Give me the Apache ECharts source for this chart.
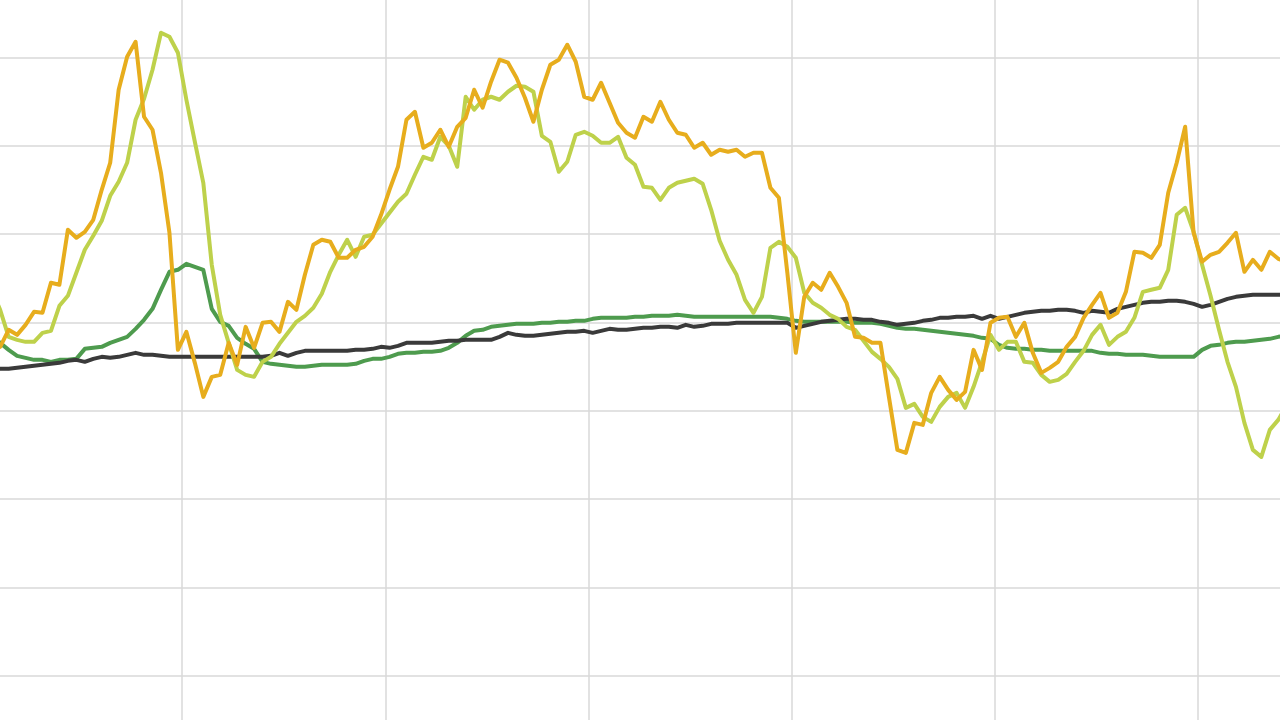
<!DOCTYPE html>
<html>
<head>
<meta charset="utf-8">
<title>chart</title>
<script src="https://cdn.jsdelivr.net/npm/echarts@6/dist/echarts.min.js"></script>
<style>
  html, body { margin: 0; padding: 0; background: #fff; overflow: hidden; width: 1280px; height: 720px; }
  /* the plot area runs past the picture on every side */
  #chart { position: absolute; left: -21px; top: -31px; width: 1422px; height: 795px; }
</style>
</head>
<body>
<div id="chart"></div>
<script>
  // sample index along x, 24 samples between vertical grid lines
  var days = [];
  for (var d = 0; d < 168; d++) days.push(String(d));

  var orangeVals = [
    410, 414, 417, 434, 429, 439, 452, 451, 481, 479,
    534, 526, 532, 544, 574, 601, 674, 707, 722, 647,
    634, 591, 531, 414, 432, 401, 367, 387, 389, 421,
    399, 437, 416, 441, 442, 432, 462, 454, 489, 519,
    524, 522, 506, 506, 514, 517, 527, 549, 574, 597,
    644, 652, 616, 621, 634, 617, 637, 646, 674, 656,
    682, 704, 701, 686, 666, 642, 674, 699, 704, 719,
    702, 667, 664, 681, 661, 641, 631, 626, 647, 642,
    662, 644, 631, 629, 616, 621, 609, 614, 612, 614,
    607, 611, 611, 576, 566, 491, 411, 467, 481, 474,
    491, 477, 461, 427, 426, 421, 421, 367, 314, 311,
    341, 339, 371, 387, 374, 364, 372, 414, 394, 441,
    446, 447, 427, 441, 411, 391, 396, 402, 417, 427,
    446, 459, 471, 446, 451, 472, 512, 511, 506, 519,
    571, 601, 637, 531, 502, 509, 512, 521, 531, 492,
    504, 494, 512, 505, 502
  ];

  var limeVals = [
    500, 474, 454, 427, 424, 422, 422, 431, 433, 458,
    468, 491, 514, 528, 543, 568, 582, 601, 644, 665,
    694, 731, 727, 711, 664, 622, 581, 499, 449, 421,
    394, 389, 387, 402, 407, 420, 431, 442, 448, 456,
    470, 492, 509, 524, 507, 527, 529, 540, 551, 562,
    570, 589, 607, 604, 627, 618, 597, 667, 654, 664,
    667, 664, 672, 678, 677, 672, 628, 622, 592, 602,
    629, 632, 628, 621, 621, 627, 606, 599, 577, 576,
    564, 576, 581, 583, 585, 580, 554, 523, 504, 489,
    464, 451, 467, 516, 522, 517, 506, 471, 461, 456,
    449, 445, 437, 434, 423, 412, 405, 397, 385, 356,
    360, 347, 342, 357, 367, 371, 356, 377, 402, 429,
    414, 422, 422, 402, 401, 389, 382, 384, 390, 402,
    413, 429, 439, 419, 427, 432, 446, 472, 474, 476,
    494, 549, 556, 532, 499, 468, 434, 402, 377, 341,
    314, 307, 334, 344, 359
  ];

  var greenVals = [
    435, 429, 421, 414, 408, 406, 404, 404, 402, 404,
    404, 405, 415, 416, 417, 421, 424, 427, 435, 444,
    455, 474, 492, 494, 500, 497, 494, 455, 442, 438,
    426, 420, 415, 402, 400, 399, 398, 397, 397, 398,
    399, 399, 399, 399, 400, 403, 405, 405, 407, 410,
    411, 411, 412, 412, 413, 416, 421, 428, 433, 434,
    437, 438, 439, 440, 440, 440, 441, 441, 442, 442,
    443, 443, 445, 446, 446, 446, 446, 447, 447, 448,
    448, 448, 449, 448, 447, 447, 447, 447, 447, 447,
    447, 447, 447, 447, 446, 445, 443, 442, 442, 442,
    442, 442, 442, 441, 441, 441, 440, 438, 436, 435,
    435, 434, 433, 432, 431, 430, 429, 428, 426, 425,
    419, 416, 415, 415, 414, 414, 413, 413, 413, 413,
    413, 413, 411, 410, 410, 409, 409, 409, 408, 407,
    407, 407, 407, 407, 414, 418, 419, 421, 422, 422,
    423, 424, 425, 427, 428
  ];

  var blackVals = [
    394, 394, 395, 395, 396, 397, 398, 399, 400, 401,
    403, 404, 402, 405, 407, 406, 407, 409, 411, 409,
    409, 408, 407, 407, 407, 407, 407, 407, 407, 407,
    407, 407, 407, 407, 408, 411, 408, 411, 413, 413,
    413, 413, 413, 413, 414, 414, 415, 417, 416, 418,
    421, 421, 421, 421, 422, 423, 423, 424, 424, 424,
    424, 427, 431, 429, 428, 428, 429, 430, 431, 432,
    432, 433, 431, 433, 435, 434, 434, 435, 436, 436,
    437, 437, 436, 439, 437, 438, 440, 440, 440, 441,
    441, 441, 441, 441, 441, 441, 436, 438, 440, 442,
    443, 444, 445, 445, 444, 444, 442, 441, 439, 440,
    441, 443, 444, 446, 446, 447, 447, 448, 445, 448,
    445, 447, 449, 451, 452, 453, 453, 454, 454, 453,
    451, 453, 452, 451, 455, 457, 459, 461, 462, 462,
    463, 463, 462, 460, 457, 459, 462, 465, 467, 468,
    469, 469, 469, 469, 469
  ];

  function lineSeries(name, color, values) {
    return {
      name: name,
      type: 'line',
      data: values,
      symbol: 'none',
      showSymbol: false,
      lineStyle: { color: color, width: 4, join: 'round' },
      itemStyle: { color: color },
      z: 2
    };
  }

  var myChart = echarts.init(document.getElementById('chart'));
  myChart.setOption({
    animation: false,
    backgroundColor: '#fff',
    grid: { left: 0, right: 0, top: 0, bottom: 0, containLabel: false },
    xAxis: {
      type: 'category',
      data: days,
      boundaryGap: true,
      axisLine: { show: false },
      axisTick: { show: false, interval: 23 },
      axisLabel: { show: false, interval: 23 },
      splitLine: { show: true, interval: 23, lineStyle: { color: '#d9d9d9', width: 1.5 } }
    },
    yAxis: {
      type: 'value',
      min: 0,
      max: 794.7,
      interval: 88.3,
      axisLine: { show: false },
      axisTick: { show: false },
      axisLabel: { show: false },
      splitLine: { show: true, lineStyle: { color: '#d9d9d9', width: 1.5 } }
    },
    series: [
      lineSeries('green', '#4e9b4e', greenVals),
      lineSeries('black', '#3a3a3a', blackVals),
      lineSeries('lime', '#bed14b', limeVals),
      lineSeries('orange', '#e7ad1d', orangeVals)
    ]
  });
</script>
</body>
</html>
